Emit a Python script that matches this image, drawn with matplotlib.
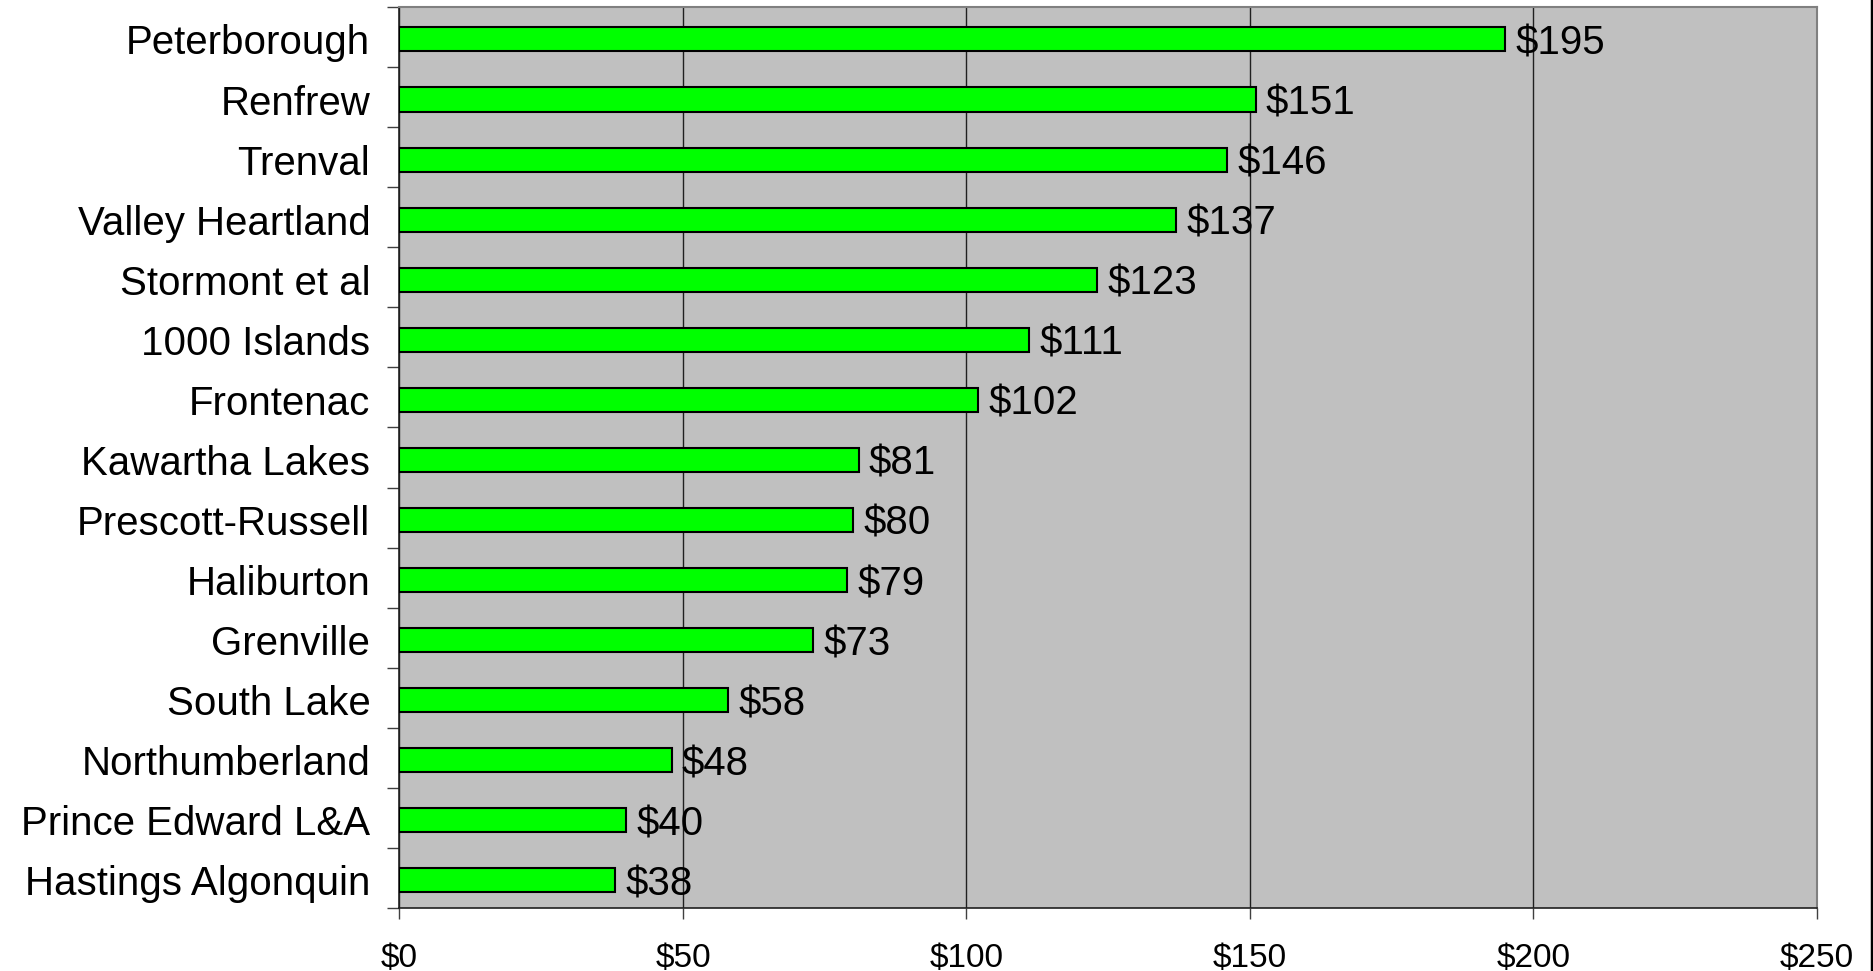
import matplotlib.pyplot as plt
from matplotlib.lines import Line2D
import numpy as np

# data, top to bottom as in the chart
regions = ['Peterborough', 'Renfrew', 'Trenval', 'Valley Heartland', 'Stormont et al',
           '1000 Islands', 'Frontenac', 'Kawartha Lakes', 'Prescott-Russell', 'Haliburton',
           'Grenville', 'South Lake', 'Northumberland', 'Prince Edward L&A', 'Hastings Algonquin']
values = [195, 151, 146, 137, 123, 111, 102, 81, 80, 79, 73, 58, 48, 40, 38]
xticks = [0, 50, 100, 150, 200, 250]

plt.rcParams['font.family'] = ['Liberation Sans', 'DejaVu Sans']

fig = plt.figure(figsize=(18.74, 9.71), dpi=100)
ax = fig.add_axes([399.5 / 1874, 63 / 971, (1817 - 399.5) / 1874, (908 - 7) / 971])
ax.set_facecolor('#C0C0C0')

y = np.arange(len(regions))
bars = ax.barh(y + 0.04, values, height=0.4, color='#00FF00', edgecolor='black',
               linewidth=1.5, zorder=3)

# value labels
for b, v in zip(bars, values):
    ax.text(b.get_width() + 1.8, b.get_y() + b.get_height() / 2, '$%d' % v,
            va='center_baseline', ha='left', fontsize=29, zorder=4)

ax.set_ylim(len(regions) - 0.5, -0.5)
ax.set_xlim(0, 250)
ax.set_xticks(xticks)
ax.set_xticklabels(['$%d' % t for t in xticks], fontsize=24)
ax.set_yticks(y + 0.04)
ax.set_yticklabels(regions, fontsize=29, va='center_baseline')

# ticks sit between categories, labels at centres
ax.set_yticks(np.arange(len(regions) + 1) - 0.5, minor=True)
ax.tick_params(axis='y', which='major', length=0, pad=21)
ax.tick_params(axis='y', which='minor', length=9, width=1, color='#404040')
ax.tick_params(axis='x', which='major', length=8, width=1, color='#404040', pad=17)

ax.grid(axis='x', color='#202020', linewidth=1, zorder=1)
ax.set_axisbelow(True)

for s in ['left', 'bottom']:
    ax.spines[s].set_color('#202020')
    ax.spines[s].set_linewidth(1.2)
for s in ['top', 'right']:
    ax.spines[s].set_color('#808080')
    ax.spines[s].set_linewidth(1.5)

# frame line on the right edge of the image
fig.add_artist(Line2D([1872 / 1874, 1872 / 1874], [0, 1], color='black', linewidth=2.5))

fig.savefig('out.png', dpi=100)
